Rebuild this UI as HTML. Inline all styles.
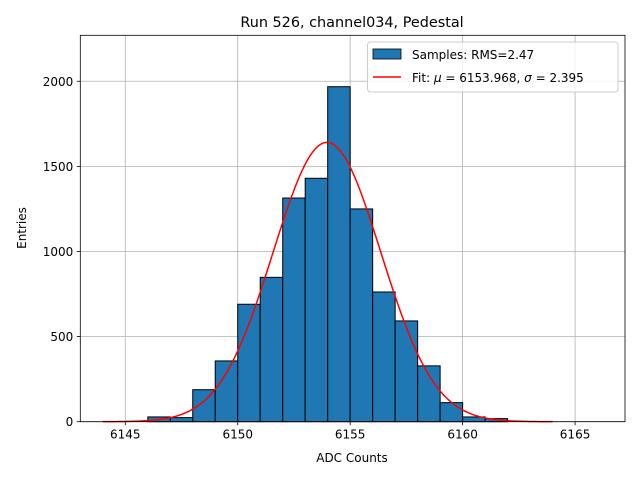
<!DOCTYPE html>
<html><head><meta charset="utf-8"><style>
body{margin:0;background:#fff}
svg{display:block;font-family:"DejaVu Sans","Liberation Sans",sans-serif}
</style></head><body>
<svg id="c" width="640" height="480" viewBox="0 0 640 480">
<rect width="640" height="480" fill="#fff"/>
<g id="grid"></g>
<g id="bars"></g>
<path id="fit" fill="none" stroke="#ff0000" stroke-width="1.5"/>
<rect x="80.3" y="35.3" width="544.7" height="386.4" fill="none" stroke="#000" stroke-width="0.8"/>
<g id="ticks"></g>
<text x="352" y="27" text-anchor="middle" font-size="14.4">Run 526, channel034, Pedestal</text>
<text x="352" y="462" text-anchor="middle" font-size="12">ADC Counts</text>
<text transform="translate(26,228) rotate(-90)" text-anchor="middle" font-size="12">Entries</text>
<g>
<rect x="367.5" y="42" width="250.5" height="50" rx="3" fill="#fff" fill-opacity="0.8" stroke="#ccc"/>
<g>
<rect x="373" y="49" width="28" height="10" fill="#1f77b4" stroke="#000" stroke-width="0.8"/>
<text x="412" y="59" font-size="12">Samples: RMS=2.47</text></g>
<g>
<line x1="373" y1="77" x2="401" y2="77" stroke="#ff0000" stroke-width="1.5"/>
<text x="412" y="82" font-size="12">Fit: <tspan font-style="italic">μ</tspan> = 6153.968, <tspan font-style="italic">σ</tspan> = 2.395</text></g>
</g>
</svg>
<script>
const binEdges=[6146,6147,6148,6149,6150,6151,6152,6153,6154,6155,6156,6157,6158,6159,6160,6161];
const counts=[28,24,188,357,690,848,1314,1430,1968,1250,762,592,328,112,28,18];
const xTicks=[6145,6150,6155,6160,6165];
const yTicks=[0,500,1000,1500,2000];
const fitMu=6153.968, fitSigma=2.395, fitAmp=1641, fitRange=[6144,6164];
const NS='http://www.w3.org/2000/svg';
const X0=80.3,X1=625,Y0=421.7,Y1=35.3,xmin=6143,xmax=6167.22,ymax=2270;
const sx=v=>X0+(v-xmin)/(xmax-xmin)*(X1-X0);
const sy=v=>Y0-v/ymax*(Y0-Y1);
function mk(t,a,p){const e=document.createElementNS(NS,t);for(const k in a)e.setAttribute(k,a[k]);p.appendChild(e);return e;}
const g=document.getElementById('grid'),tk=document.getElementById('ticks'),b=document.getElementById('bars');
xTicks.forEach(v=>{
 const l=mk('line',{x1:sx(v),x2:sx(v),y1:Y1,y2:Y0,stroke:'#b0b0b0','stroke-width':0.8},g);
 
 
 const t=mk('line',{x1:sx(v),x2:sx(v),y1:Y0,y2:Y0+3.5,stroke:'#000','stroke-width':0.8},tk);
 
 
 const tx=mk('text',{x:sx(v),y:Y0+17,'text-anchor':'middle','font-size':12},tk);tx.textContent=v;
 
 
});
yTicks.forEach(v=>{
 const l=mk('line',{x1:X0,x2:X1,y1:sy(v),y2:sy(v),stroke:'#b0b0b0','stroke-width':0.8},g);
 
 
 const t=mk('line',{x1:X0-3.5,x2:X0,y1:sy(v),y2:sy(v),stroke:'#000','stroke-width':0.8},tk);
 
 
 const tx=mk('text',{x:X0-7,y:sy(v)+4.5,'text-anchor':'end','font-size':12},tk);tx.textContent=v;
 
 
});
counts.forEach((c,i)=>{
 const x=sx(binEdges[i]),w=sx(binEdges[i]+1)-x;
 const r=mk('rect',{x:x,y:sy(c),width:w,height:Y0-sy(c),fill:'#1f77b4',stroke:'#000','stroke-width':1},b);
 
 
});
let d='';
for(let i=0;i<=400;i++){const v=fitRange[0]+(fitRange[1]-fitRange[0])*i/400;
 const y=fitAmp*Math.exp(-0.5*((v-fitMu)/fitSigma)**2);
 d+=(i?'L':'M')+sx(v).toFixed(2)+','+sy(y).toFixed(2);}
document.getElementById('fit').setAttribute('d',d);
</script>
</body></html>
